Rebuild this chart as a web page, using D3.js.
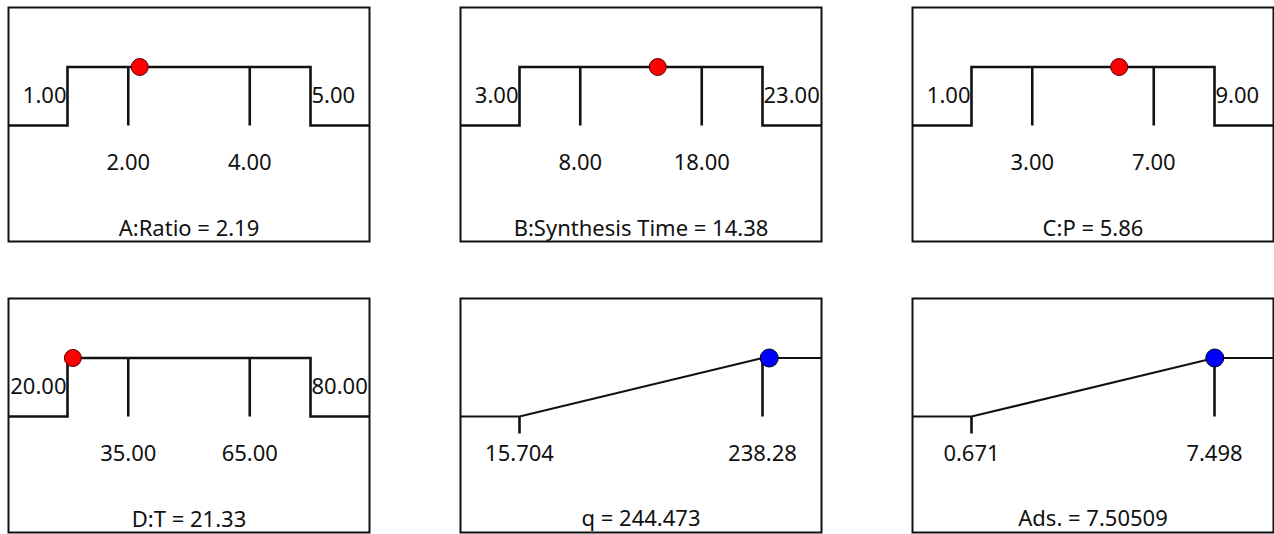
<!DOCTYPE html>
<html>
<head>
<meta charset="utf-8">
<script src="https://cdn.jsdelivr.net/npm/d3@7"></script>
<style>
  body { margin: 0; background: #fff; }
  svg text { font-family: "Noto Sans", "Open Sans", sans-serif; font-size: 22px; fill: #111; }
</style>
</head>
<body>
<div id="chart"></div>
<script>
// factors (red dots)
const factorNames = ["A:Ratio", "B:Synthesis Time", "C:P", "D:T"];
const factorLow = [1, 3, 1, 20];
const factorHigh = [5, 23, 9, 80];
const factorTicks = [[2, 4], [8, 18], [3, 7], [35, 65]];
const factorValue = [2.19, 14.38, 5.86, 21.33];

// responses (blue dots)
const responseNames = ["q", "Ads."];
const responseLow = [15.704, 0.671];
const responseHigh = [238.28, 7.498];
const responseValue = [244.473, 7.50509];

const W = 1274, H = 534;
const boxW = 361, boxH = 234;
const colStep = 452, rowStep = 291;
const pad = 59;

const svg = d3.select("#chart").append("svg")
  .attr("width", W).attr("height", H);

// desirability scale: 0 = low step, 1 = high step
const y = d3.scaleLinear().domain([0, 1]).range([118, 59.5]);
const fmt2 = d3.format(".2f");

function panel(i) {
  const col = i % 3, row = Math.floor(i / 3);
  const g = svg.append("g")
    .attr("transform", `translate(${8.5 + col * colStep}, ${7.5 + row * rowStep})`);
  g.append("rect")
    .attr("width", boxW).attr("height", boxH)
    .attr("fill", "none").attr("stroke", "#111").attr("stroke-width", 2);
  return g;
}

// factor panels
factorNames.forEach((name, i) => {
  const g = panel(i);
  const x = d3.scaleLinear().domain([factorLow[i], factorHigh[i]]).range([pad, boxW - pad]);

  const pts = [
    [0, y(0)], [x(factorLow[i]), y(0)], [x(factorLow[i]), y(1)],
    [x(factorHigh[i]), y(1)], [x(factorHigh[i]), y(0)], [boxW, y(0)]
  ];
  g.append("path")
    .attr("d", d3.line()(pts))
    .attr("fill", "none").attr("stroke", "#111").attr("stroke-width", 2.6);

  g.selectAll(".tick").data(factorTicks[i]).enter().append("line")
    .attr("x1", d => x(d)).attr("x2", d => x(d))
    .attr("y1", y(1)).attr("y2", y(0))
    .attr("stroke", "#111").attr("stroke-width", 2.6);

  g.selectAll(".tlab").data(factorTicks[i]).enter().append("text")
    .attr("x", d => x(d)).attr("y", 162)
    .attr("text-anchor", "middle")
    .text(d => fmt2(d));

  g.append("text").attr("x", x(factorLow[i]) - 1).attr("y", 95)
    .attr("text-anchor", "end").text(fmt2(factorLow[i]));
  g.append("text").attr("x", x(factorHigh[i]) + 1).attr("y", 95)
    .attr("text-anchor", "start").text(fmt2(factorHigh[i]));

  g.append("circle")
    .attr("cx", x(factorValue[i])).attr("cy", y(1)).attr("r", 8.5)
    .attr("fill", "#ff0000").attr("stroke", "#500").attr("stroke-width", 1);

  g.append("text").attr("x", boxW / 2).attr("y", 228)
    .attr("text-anchor", "middle")
    .text(`${name} = ${fmt2(factorValue[i])}`);
});

// response panels
responseNames.forEach((name, j) => {
  const g = panel(4 + j);
  const x = d3.scaleLinear().domain([responseLow[j], responseHigh[j]]).range([pad, boxW - pad]);

  const pts = [
    [0, y(0)], [x(responseLow[j]), y(0)], [x(responseHigh[j]), y(1)], [boxW, y(1)]
  ];
  g.append("path")
    .attr("d", d3.line()(pts))
    .attr("fill", "none").attr("stroke", "#111").attr("stroke-width", 2.2);

  g.append("line")
    .attr("x1", x(responseLow[j])).attr("x2", x(responseLow[j]))
    .attr("y1", y(0)).attr("y2", y(0) + 17)
    .attr("stroke", "#111").attr("stroke-width", 2.6);
  g.append("line")
    .attr("x1", x(responseHigh[j])).attr("x2", x(responseHigh[j]))
    .attr("y1", y(1)).attr("y2", y(0))
    .attr("stroke", "#111").attr("stroke-width", 2.6);

  g.selectAll(".tlab").data([responseLow[j], responseHigh[j]]).enter().append("text")
    .attr("x", d => x(d)).attr("y", 162)
    .attr("text-anchor", "middle")
    .text(d => String(d));

  g.append("circle")
    .attr("cx", x(responseValue[j])).attr("cy", y(1)).attr("r", 9)
    .attr("fill", "#0000ff").attr("stroke", "#002").attr("stroke-width", 1);

  g.append("text").attr("x", boxW / 2).attr("y", 227)
    .attr("text-anchor", "middle")
    .text(`${name} = ${responseValue[j]}`);
});
</script>
</body>
</html>
